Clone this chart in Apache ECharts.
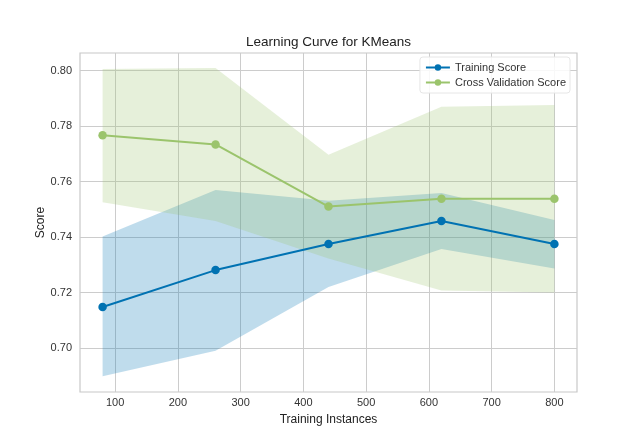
<!DOCTYPE html>
<html>
<head>
<meta charset="utf-8">
<script src="https://cdn.jsdelivr.net/npm/echarts@6/dist/echarts.min.js"></script>
<style>html,body{margin:0;padding:0;background:#fff}#c{width:640px;height:440px}</style>
</head>
<body>
<div id="c"></div>
<script>
var trainSizes = [80, 260, 440, 620, 800];
var trainScore = [0.7148, 0.7281, 0.7375, 0.7458, 0.7375];
var trainUpper = [0.7402, 0.7570, 0.7531, 0.7559, 0.7462];
var trainLower = [0.6898, 0.6990, 0.7220, 0.7357, 0.7287];
var cvScore = [0.7767, 0.7734, 0.7510, 0.7538, 0.7538];
var cvUpper = [0.8006, 0.8010, 0.7697, 0.7870, 0.7876];
var cvLower = [0.7526, 0.7458, 0.7323, 0.7207, 0.7200];
var xTicks = [100, 200, 300, 400, 500, 600, 700, 800];
var yTicks = [0.70, 0.72, 0.74, 0.76, 0.78, 0.80];

var blue = '#0072B2', green = '#9BC46C';
var font = 'Liberation Sans, Arial, sans-serif';

function bandSeries(upper, lower, color) {
  return {
    type: 'custom',
    silent: true,
    z: 1,
    data: trainSizes.map(function (x, i) { return [x, upper[i], lower[i]]; }),
    renderItem: function (params, api) {
      if (params.dataIndex !== 0) return null;
      var pts = [];
      for (var i = 0; i < trainSizes.length; i++) pts.push(api.coord([trainSizes[i], upper[i]]));
      for (var j = trainSizes.length - 1; j >= 0; j--) pts.push(api.coord([trainSizes[j], lower[j]]));
      return { type: 'polygon', shape: { points: pts }, style: { fill: color, opacity: 0.25 } };
    }
  };
}

var chart = echarts.init(document.getElementById('c'), null, { renderer: 'canvas' });
chart.setOption({
  animation: false,
  backgroundColor: '#fff',
  textStyle: { fontFamily: font },
  title: {
    text: 'Learning Curve for KMeans', left: 241, top: 30,
    textStyle: { fontFamily: font, fontSize: 13.5, fontWeight: 'normal', color: '#222' }
  },
  legend: {
    orient: 'vertical', right: 70, top: 57,
    data: ['Training Score', 'Cross Validation Score'],
    backgroundColor: 'rgba(255,255,255,0.85)', borderColor: '#e6e6e6', borderWidth: 1, borderRadius: 3,
    padding: [5, 4, 5, 5], itemWidth: 24, itemHeight: 8, itemGap: 4,
    textStyle: { fontFamily: font, fontSize: 11, color: '#333' }
  },
  grid: { left: 80, right: 63, top: 53, bottom: 48, show: true, borderColor: '#c8c8c8', borderWidth: 1.2, backgroundColor: 'transparent' },
  xAxis: {
    type: 'value', min: 44, max: 836,
    name: 'Training Instances', nameLocation: 'middle', nameGap: 22, nameMoveOverlap: false,
    nameTextStyle: { fontFamily: font, fontSize: 12, color: '#222' },
    axisLine: { show: false }, axisTick: { show: false, customValues: xTicks },
    axisLabel: { customValues: xTicks, fontFamily: font, fontSize: 11, color: '#333', margin: 5 },
    splitLine: { show: true, lineStyle: { color: '#cccccc', width: 1 } }
  },
  yAxis: {
    type: 'value', min: 0.68414, max: 0.80638,
    name: 'Score', nameLocation: 'middle', nameGap: 33, nameRotate: 90, nameMoveOverlap: false,
    nameTextStyle: { fontFamily: font, fontSize: 12, color: '#222' },
    axisLine: { show: false }, axisTick: { show: false, customValues: yTicks },
    axisLabel: { customValues: yTicks, fontFamily: font, fontSize: 11, color: '#333', margin: 8,
      formatter: function (v) { return v.toFixed(2); } },
    splitLine: { show: true, lineStyle: { color: '#cccccc', width: 1 } }
  },
  series: [
    bandSeries(trainUpper, trainLower, blue),
    bandSeries(cvUpper, cvLower, green),
    {
      name: 'Training Score', type: 'line', z: 3,
      data: trainSizes.map(function (x, i) { return [x, trainScore[i]]; }),
      color: blue, symbol: 'circle', symbolSize: 8.5, showSymbol: true,
      lineStyle: { width: 2, color: blue }, itemStyle: { color: blue }
    },
    {
      name: 'Cross Validation Score', type: 'line', z: 3,
      data: trainSizes.map(function (x, i) { return [x, cvScore[i]]; }),
      color: green, symbol: 'circle', symbolSize: 8.5, showSymbol: true,
      lineStyle: { width: 2, color: green }, itemStyle: { color: green }
    }
  ]
});
</script>
</body>
</html>
